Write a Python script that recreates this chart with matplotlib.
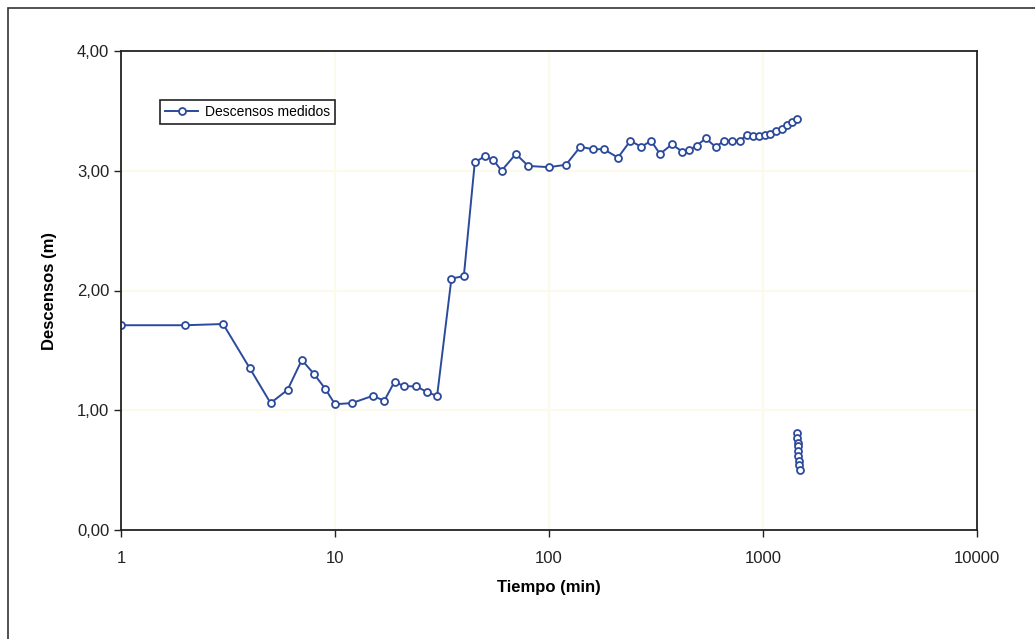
import matplotlib.pyplot as plt
from matplotlib.patches import Rectangle
from matplotlib.ticker import FixedLocator, FuncFormatter, NullLocator

plt.rcParams['font.family'] = ['Liberation Sans Narrow', 'Liberation Sans', 'DejaVu Sans']

# drawdown test data
tiempo = [1, 2, 3, 4, 5, 6, 7, 8, 9, 10, 12, 15, 17, 19, 21, 24, 27, 30, 35, 40,
          45, 50, 55, 60, 70, 80, 100, 120, 140, 160, 180, 210, 240, 270, 300,
          330, 375, 420, 450, 490, 540, 600, 660, 720, 780, 840, 900, 960, 1020,
          1080, 1150, 1230, 1300, 1370, 1440]
descensos = [1.71, 1.71, 1.72, 1.35, 1.06, 1.17, 1.42, 1.30, 1.18, 1.05, 1.06,
             1.12, 1.08, 1.24, 1.20, 1.20, 1.15, 1.12, 2.10, 2.12,
             3.07, 3.12, 3.09, 3.00, 3.14, 3.04, 3.03, 3.05, 3.20, 3.18, 3.18,
             3.11, 3.25, 3.20, 3.25, 3.14, 3.22, 3.16, 3.17, 3.21, 3.27, 3.20,
             3.25, 3.25, 3.25, 3.30, 3.29, 3.29, 3.30, 3.31, 3.33, 3.35, 3.38,
             3.41, 3.43]

# recovery points
tiempo_rec = [1440, 1445, 1450, 1455, 1460, 1465, 1470, 1478, 1485]
descensos_rec = [0.81, 0.77, 0.73, 0.70, 0.66, 0.62, 0.58, 0.54, 0.50]

azul = '#2c4a9c'

fig = plt.figure(figsize=(10.35, 6.39), dpi=100)
fig.patches.append(Rectangle((8 / 1035, -0.01), 1.02, 1 - 8 / 639 + 0.01,
                             transform=fig.transFigure, fill=False,
                             edgecolor='#333333', linewidth=1.2))
ax = fig.add_axes([121 / 1035, 1 - 530 / 639, 856 / 1035, 479 / 639])

ax.plot(tiempo, descensos, color=azul, linewidth=1.4, marker='o', markersize=5,
        markerfacecolor='white', markeredgecolor=azul, markeredgewidth=1.3,
        label='Descensos medidos')
ax.plot(tiempo_rec, descensos_rec, color=azul, linewidth=1.4, marker='o',
        markersize=5, markerfacecolor='white', markeredgecolor=azul,
        markeredgewidth=1.3)

ax.set_xscale('log')
ax.set_xlim(1, 10000)
ax.set_ylim(0, 4)
ax.xaxis.set_major_locator(FixedLocator([1, 10, 100, 1000, 10000]))
ax.xaxis.set_minor_locator(NullLocator())
ax.xaxis.set_major_formatter(FuncFormatter(lambda v, p: '%d' % round(v)))
ax.set_yticks([0, 1, 2, 3, 4])
ax.yaxis.set_major_formatter(FuncFormatter(lambda v, p: ('%.2f' % v).replace('.', ',')))

ax.grid(True, color='#fcfaea', linewidth=1.5)
ax.set_axisbelow(True)
for s in ax.spines.values():
    s.set_linewidth(1.3)
    s.set_color('#222222')
ax.tick_params(axis='both', direction='out', length=5, width=1, labelsize=12,
               colors='#222222')
ax.tick_params(axis='x', pad=10)

ax.set_xlabel('Tiempo (min)', fontsize=12, fontweight='bold', labelpad=10)
ax.set_ylabel('Descensos (m)', fontsize=12, fontweight='bold', labelpad=14)

leg = ax.legend(loc='upper left', bbox_to_anchor=(0.0456, 0.898), fontsize=10,
                fancybox=False, framealpha=1, edgecolor='#222222',
                handlelength=2.4, borderpad=0.35, borderaxespad=0,
                handletextpad=0.5)
leg.get_frame().set_linewidth(1.2)

fig.savefig('out.png', dpi=100)
